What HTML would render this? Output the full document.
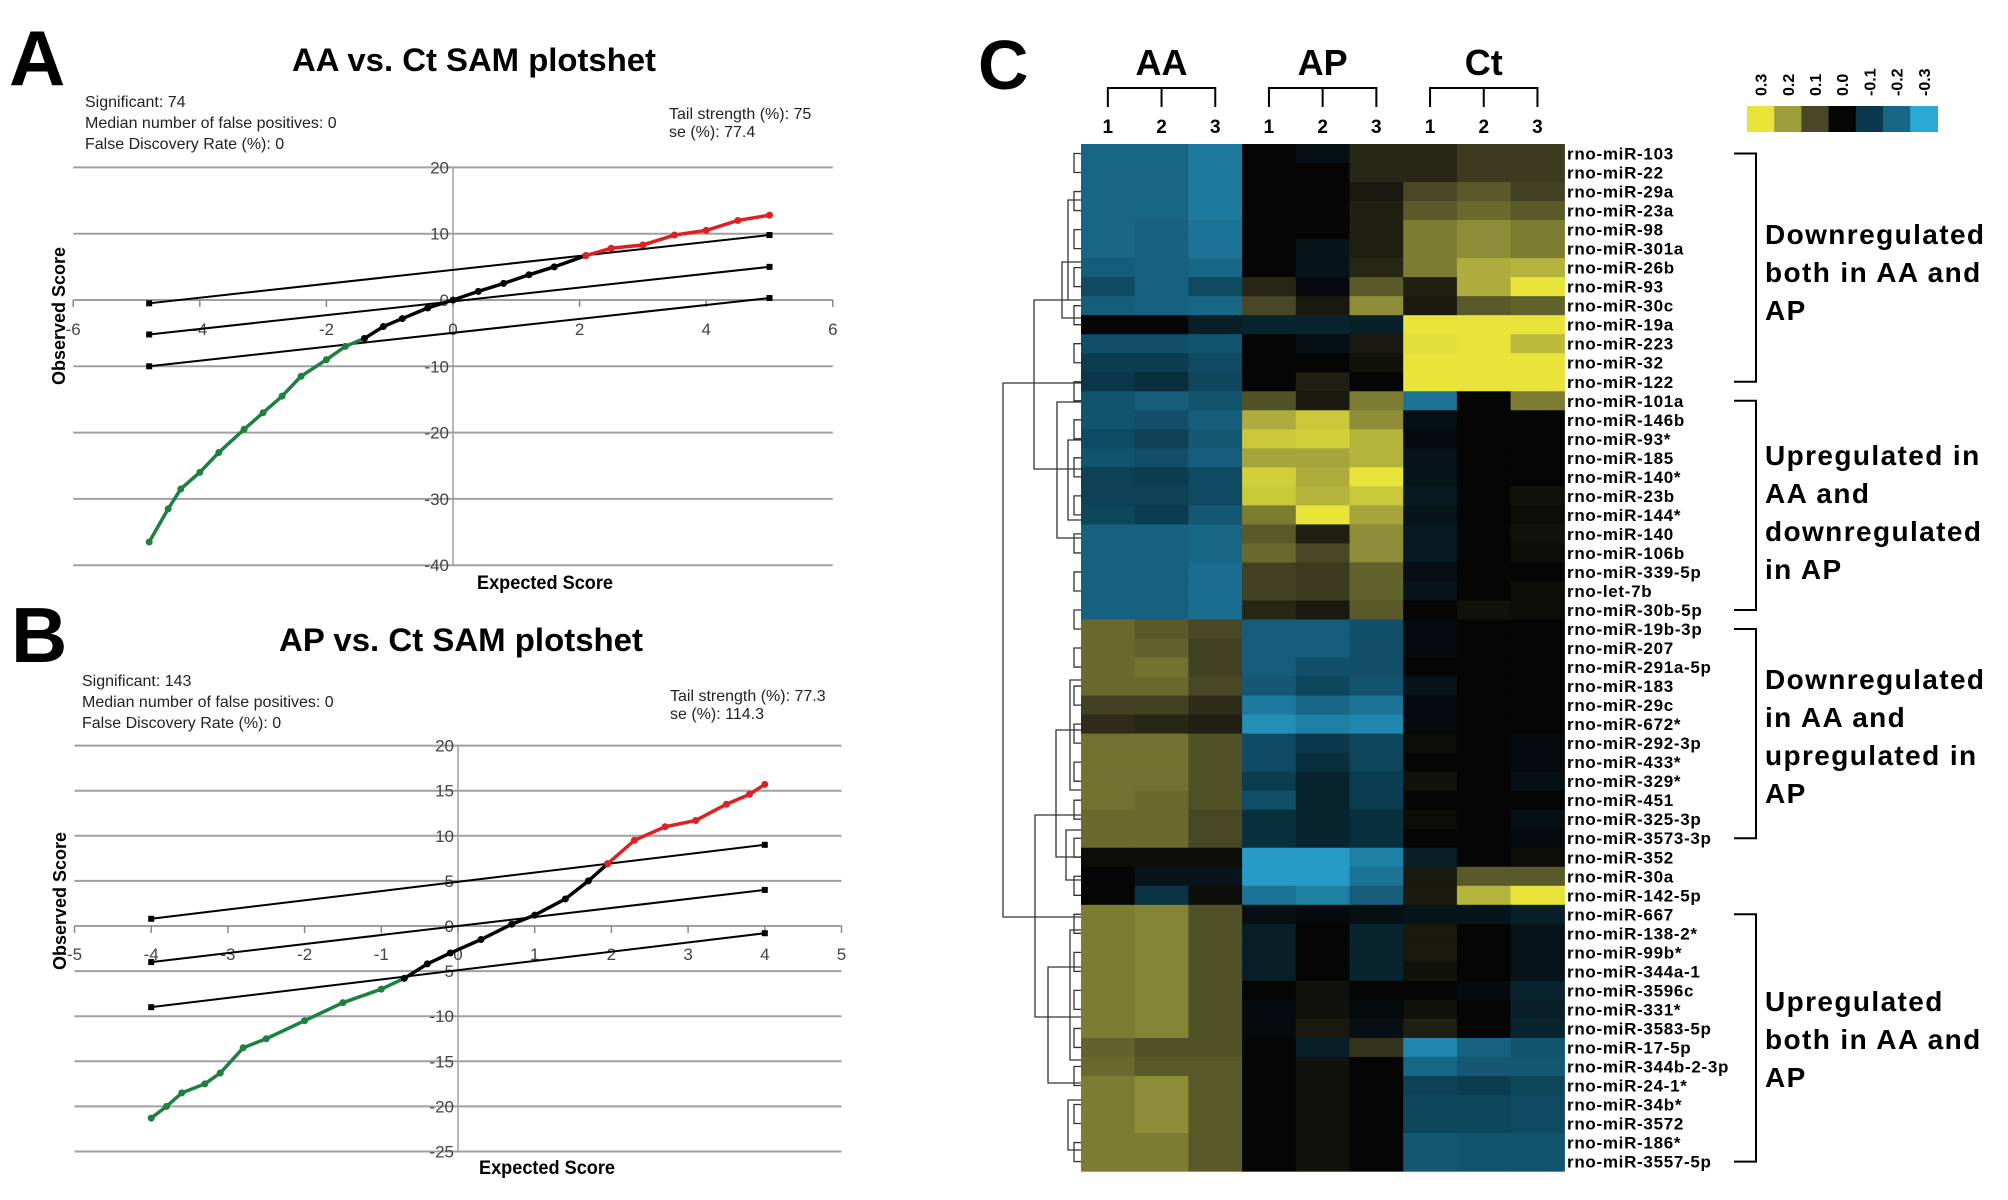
<!DOCTYPE html>
<html><head><meta charset="utf-8"><style>
html,body{margin:0;padding:0;background:#fff}
svg{display:block}
text{font-family:"Liberation Sans",sans-serif}
</style></head><body>
<svg id="fig" width="2008" height="1200" viewBox="0 0 2008 1200" xmlns="http://www.w3.org/2000/svg">
<rect width="2008" height="1200" fill="#fff"/>
<g id="panelA"></g>
<g id="panelB"></g>
<g id="panelC"></g>
</svg>
<script>
// ===== Panel A data =====
const aYTicks = [20, 10, 0, -10, -20, -30, -40];
const aXTicks = [-6, -4, -2, 0, 2, 4, 6];
const aGreenX = [-4.8,-4.5,-4.3,-4.0,-3.7,-3.3,-3.0,-2.7,-2.4,-2.0,-1.7,-1.4];
const aGreenY = [-36.5,-31.5,-28.5,-26,-23,-19.5,-17,-14.5,-11.5,-9,-7,-5.8];
const aBlackX = [-1.4,-1.1,-0.8,-0.4,0,0.4,0.8,1.2,1.6,2.1];
const aBlackY = [-5.8,-4,-2.8,-1.2,0,1.3,2.5,3.8,5,6.7];
const aRedX = [2.1,2.5,3.0,3.5,4.0,4.5,5.0];
const aRedY = [6.7,7.8,8.3,9.8,10.5,12,12.8];
const aCutX1 = [-4.8,-4.8,-4.8];
const aCutY1 = [-0.5,-5.2,-10];
const aCutX2 = [5,5,5];
const aCutY2 = [9.8,5,0.3];
// ===== Panel B data =====
const bYTicks = [20,15,10,5,0,-5,-10,-15,-20,-25];
const bXTicks = [-5,-4,-3,-2,-1,0,1,2,3,4,5];
const bGreenX = [-4,-3.8,-3.6,-3.3,-3.1,-2.8,-2.5,-2,-1.5,-1,-0.7];
const bGreenY = [-21.3,-20,-18.5,-17.5,-16.3,-13.5,-12.5,-10.5,-8.5,-7,-5.8];
const bBlackX = [-0.7,-0.4,-0.1,0.3,0.7,1,1.4,1.7,1.95];
const bBlackY = [-5.8,-4.2,-3,-1.5,0.2,1.2,3,5,6.9];
const bRedX = [1.95,2.3,2.7,3.1,3.5,3.8,4];
const bRedY = [6.9,9.5,11,11.7,13.5,14.6,15.7];
const bCutX1 = [-4,-4,-4];
const bCutY1 = [0.8,-4,-9];
const bCutX2 = [4,4,4];
const bCutY2 = [9,4,-0.8];
// ===== Panel C data =====
const groups = ["AA","AP","Ct"];
const sampleNums = ["1","2","3","1","2","3","1","2","3"];
const legendLabels = ["0.3","0.2","0.1","0.0","-0.1","-0.2","-0.3"];
const mirnas = ["rno-miR-103","rno-miR-22","rno-miR-29a","rno-miR-23a","rno-miR-98","rno-miR-301a","rno-miR-26b","rno-miR-93","rno-miR-30c","rno-miR-19a","rno-miR-223","rno-miR-32","rno-miR-122",
"rno-miR-101a","rno-miR-146b","rno-miR-93*","rno-miR-185","rno-miR-140*","rno-miR-23b","rno-miR-144*","rno-miR-140","rno-miR-106b","rno-miR-339-5p","rno-let-7b","rno-miR-30b-5p",
"rno-miR-19b-3p","rno-miR-207","rno-miR-291a-5p","rno-miR-183","rno-miR-29c","rno-miR-672*","rno-miR-292-3p","rno-miR-433*","rno-miR-329*","rno-miR-451","rno-miR-325-3p","rno-miR-3573-3p",
"rno-miR-352","rno-miR-30a","rno-miR-142-5p",
"rno-miR-667","rno-miR-138-2*","rno-miR-99b*","rno-miR-344a-1","rno-miR-3596c","rno-miR-331*","rno-miR-3583-5p","rno-miR-17-5p","rno-miR-344b-2-3p","rno-miR-24-1*","rno-miR-34b*","rno-miR-3572","rno-miR-186*","rno-miR-3557-5p"];
const expr = [
[-2,-2,-2.3,0,-0.2,0.5,0.5,0.8,0.8],
[-2,-2,-2.3,0,0,0.5,0.5,0.8,0.8],
[-2,-2,-2.3,0,0,0.3,1,1.2,0.9],
[-2,-2,-2.3,0,0,0.4,1.2,1.4,1.2],
[-2,-1.9,-2.2,0,0,0.4,1.6,1.8,1.6],
[-2,-1.9,-2.2,0,-0.3,0.4,1.6,1.8,1.6],
[-1.8,-1.9,-2,0,-0.3,0.5,1.6,2.2,2.3],
[-1.4,-1.9,-1.4,0.5,-0.1,1.2,0.4,2.2,3],
[-1.8,-1.9,-2,1,0.3,1.8,0.3,1.2,1.3],
[0,0,-0.5,-0.6,-0.6,-0.5,3,3,3],
[-1.5,-1.5,-1.6,0,-0.2,0.3,2.9,3,2.4],
[-1.1,-1.1,-1.4,0,0,0.2,3,3,3],
[-1,-0.8,-1.3,0,0.4,0,3,3,3],
[-1.6,-1.8,-1.6,1.1,0.3,1.6,-2.2,0,1.6],
[-1.6,-1.5,-1.8,2.2,2.6,1.8,-0.2,0,0],
[-1.4,-1.2,-1.7,2.6,2.7,2.3,-0.1,0,0],
[-1.6,-1.5,-1.8,2.1,2.1,2.3,-0.3,0,0],
[-1.2,-1.1,-1.4,2.7,2.2,3,-0.3,0,0],
[-1.2,-1.2,-1.4,2.6,2.3,2.6,-0.4,0,0.2],
[-1.3,-1.1,-1.7,1.6,3,2.1,-0.3,0,0.1],
[-1.9,-1.9,-2,1.2,0.4,1.8,-0.4,0,0.2],
[-1.9,-1.9,-2,1.4,1.0,1.8,-0.4,0,0.1],
[-1.9,-1.9,-2.1,0.9,0.8,1.3,-0.2,0,0],
[-1.9,-1.9,-2.1,0.9,0.8,1.3,-0.3,0,0.1],
[-1.9,-1.9,-2.1,0.5,0.3,1.2,0,0.2,0.1],
[1.4,1.2,1.0,-1.8,-1.8,-1.5,-0.1,0,0],
[1.4,1.3,0.9,-1.8,-1.8,-1.5,-0.1,0,0],
[1.4,1.5,0.9,-1.8,-1.5,-1.5,0,0,0],
[1.4,1.4,1.0,-1.7,-1.3,-1.6,-0.3,0,0],
[0.9,0.9,0.6,-2.3,-2.0,-2.2,-0.1,0,0],
[0.6,0.5,0.4,-2.6,-2.4,-2.5,-0.1,0,0],
[1.5,1.5,1.1,-1.4,-1.0,-1.3,0.1,0,-0.1],
[1.5,1.5,1.1,-1.4,-0.8,-1.3,0,0,-0.1],
[1.5,1.5,1.1,-1.1,-0.6,-1.1,0.2,0,-0.2],
[1.5,1.4,1.1,-1.5,-0.6,-1.1,0,0,0],
[1.4,1.4,1.0,-0.8,-0.6,-0.8,0.1,0,-0.2],
[1.4,1.4,1.0,-0.8,-0.6,-0.8,0,0,-0.1],
[0.1,0.1,0.1,-2.8,-2.8,-2.4,-0.5,0,0.1],
[0,-0.3,-0.3,-2.8,-2.8,-2.2,0.3,1.2,1.2],
[0,-0.9,0.1,-2.2,-2.4,-1.8,0.3,2.3,3],
[1.6,1.7,1.1,-0.2,-0.1,-0.2,-0.3,-0.3,-0.5],
[1.6,1.7,1.1,-0.5,0,-0.6,0.3,0,-0.3],
[1.6,1.7,1.1,-0.5,0,-0.6,0.3,0,-0.3],
[1.6,1.7,1.1,-0.5,0,-0.6,0.2,0,-0.3],
[1.6,1.7,1.1,0,0.2,0,0,-0.1,-0.6],
[1.6,1.7,1.1,-0.1,0.2,-0.1,0.2,0,-0.5],
[1.6,1.7,1.1,-0.1,0.3,-0.2,0.4,0,-0.6],
[1.3,1.1,1.1,0,-0.5,0.7,-2.5,-1.9,-1.6],
[1.4,1.2,1.2,0,0.2,0,-2,-1.7,-1.7],
[1.6,1.8,1.2,0,0.2,0,-1.2,-1.1,-1.3],
[1.6,1.8,1.2,0,0.2,0,-1.3,-1.3,-1.4],
[1.6,1.8,1.2,0,0.2,0,-1.3,-1.3,-1.4],
[1.6,1.6,1.2,0,0.2,0,-1.7,-1.6,-1.6],
[1.6,1.6,1.2,0,0.2,0,-1.7,-1.6,-1.6]
];
const groupStart = [0,13,25,40];
const groupEnd = [12,24,36,53];
const groupText = [["Downregulated","both in AA and","AP"],["Upregulated in","AA and","downregulated","in AP"],["Downregulated","in AA and","upregulated in","AP"],["Upregulated","both in AA and","AP"]];

const NS="http://www.w3.org/2000/svg";
function mk(parent,tag,attrs,txt){const e=document.createElementNS(NS,tag);for(const k in attrs)e.setAttribute(k,attrs[k]);if(txt!==undefined)e.textContent=txt;parent.appendChild(e);return e;}

function scatterPanel(g,cfg){
  const xs=v=>cfg.x0+v*cfg.xu, ys=v=>cfg.y0-v*cfg.yu;
  let t=mk(g,'text',{x:cfg.lx,y:cfg.ly,'font-size':cfg.lsize,'font-weight':'bold'},cfg.letter);
  
  
  t=mk(g,'text',{x:cfg.tx,y:cfg.ty,'font-size':32,'font-weight':'bold','text-anchor':'middle',textLength:364,lengthAdjust:'spacingAndGlyphs'},cfg.title);
  
  
  cfg.stats.forEach((s,i)=>{const e=mk(g,'text',{x:cfg.sx,y:cfg.sy+i*21,'font-size':16,fill:'#222'},s);
    
    });
  cfg.stats2.forEach((s,i)=>{const e=mk(g,'text',{x:cfg.s2x,y:cfg.s2y+i*18,'font-size':16,fill:'#222'},s);
    
    });
  const xl=xs(cfg.xmin), xr=xs(cfg.xmax);
  cfg.yticks.forEach(v=>{const l=mk(g,'line',{x1:xl,x2:xr,y1:ys(v),y2:ys(v),stroke:'#a0a0a0','stroke-width':2});
    
    
    const e=mk(g,'text',{x:xs(0)-4,y:ys(v)+6,'font-size':17,fill:'#444','text-anchor':'end'},String(v));
    
    });
  const ya=mk(g,'line',{x1:xs(0),x2:xs(0),y1:ys(cfg.yticks[0]),y2:ys(cfg.yticks[cfg.yticks.length-1]),stroke:'#a0a0a0','stroke-width':1.5});
  
  
  cfg.xticks.forEach(v=>{const l=mk(g,'line',{x1:xs(v),x2:xs(v),y1:ys(0),y2:ys(0)+7,stroke:'#888','stroke-width':1.5});
    
    
    const e=mk(g,'text',{x:xs(v),y:ys(0)+cfg.xlabOff,'font-size':17,fill:'#444','text-anchor':'middle'},String(v));
    
    });
  for(let i=0;i<cfg.c1x.length;i++){
    const l=mk(g,'line',{x1:xs(cfg.c1x[i]),y1:ys(cfg.c1y[i]),x2:xs(cfg.c2x[i]),y2:ys(cfg.c2y[i]),stroke:'#000','stroke-width':2});
    
    
    [[cfg.c1x[i],cfg.c1y[i]],[cfg.c2x[i],cfg.c2y[i]]].forEach(p=>{const c=mk(g,'rect',{x:xs(p[0])-3,y:ys(p[1])-3,width:6,height:6,fill:'#000'});
      
      });
  }
  [[cfg.gx,cfg.gy,'#1e8040','green-series'],[cfg.kx,cfg.ky,'#000','black-series'],[cfg.rx,cfg.ry,'#e02020','red-series']].forEach(s=>{
    const pts=s[0].map((v,i)=>xs(v)+','+ys(s[1][i])).join(' ');
    const pl=mk(g,'polyline',{points:pts,fill:'none',stroke:s[2],'stroke-width':3.5});
    
    
    s[0].forEach((v,i)=>{const c=mk(g,'circle',{cx:xs(v),cy:ys(s[1][i]),r:3.5,fill:s[2]});
      
      });
  });
  t=mk(g,'text',{x:0,y:0,'font-size':18,'font-weight':'bold',transform:`translate(${cfg.ytx},${cfg.yty}) rotate(-90)`,'text-anchor':'middle'},'Observed Score');
  
  
  t=mk(g,'text',{x:cfg.xtx,y:cfg.xty,'font-size':19,'font-weight':'bold','text-anchor':'middle',textLength:136,lengthAdjust:'spacingAndGlyphs'},'Expected Score');
  
  
}

scatterPanel(document.getElementById('panelA'),{letter:'A',lx:9,ly:85,lsize:78,title:'AA vs. Ct SAM plotshet',tx:474,ty:71,
  stats:['Significant: 74','Median number of false positives: 0','False Discovery Rate (%): 0'],sx:85,sy:107,
  stats2:['Tail strength (%): 75','se (%): 77.4'],s2x:669,s2y:119,
  x0:453,xu:63.3,y0:300,yu:6.63,xmin:-6,xmax:6,yticks:aYTicks,xticks:aXTicks,xlabOff:35,
  c1x:aCutX1,c1y:aCutY1,c2x:aCutX2,c2y:aCutY2,gx:aGreenX,gy:aGreenY,kx:aBlackX,ky:aBlackY,rx:aRedX,ry:aRedY,
  ytx:65,yty:316,xtx:545,xty:589});
scatterPanel(document.getElementById('panelB'),{letter:'B',lx:11,ly:662,lsize:78,title:'AP vs. Ct SAM plotshet',tx:461,ty:651,
  stats:['Significant: 143','Median number of false positives: 0','False Discovery Rate (%): 0'],sx:82,sy:686,
  stats2:['Tail strength (%): 77.3','se (%): 114.3'],s2x:670,s2y:701,
  x0:458,xu:76.7,y0:926,yu:9.02,xmin:-5,xmax:5,yticks:bYTicks,xticks:bXTicks,xlabOff:34,
  c1x:bCutX1,c1y:bCutY1,c2x:bCutX2,c2y:bCutY2,gx:bGreenX,gy:bGreenY,kx:bBlackX,ky:bBlackY,rx:bRedX,ry:bRedY,
  ytx:66,yty:901,xtx:547,xty:1174});

// ===== Panel C =====
(function(){
  const g=document.getElementById('panelC');
  const hx=1081, hy=144, cw=53.7, rh=19.02;
  const stops=[[-3,[42,168,214]],[-2,[24,102,134]],[-1,[10,56,74]],[0,[5,5,5]],[1,[72,72,38]],[2,[158,158,60]],[3,[232,228,58]]];
  function col(v){v=Math.max(-3,Math.min(3,v));for(let i=0;i<stops.length-1;i++){const a=stops[i],b=stops[i+1];if(v<=b[0]){const t=(v-a[0])/(b[0]-a[0]);return 'rgb('+a[1].map((c,j)=>Math.round(c+(b[1][j]-c)*t)).join(',')+')';}}return 'rgb(232,228,58)';}
  let t=mk(g,'text',{x:978,y:89,'font-size':70,'font-weight':'bold'},'C');
  
  
  expr.forEach((row,r)=>row.forEach((v,c)=>{
    const e=mk(g,'rect',{x:hx+c*cw,y:hy+r*rh,width:cw+0.6,height:rh+0.6,fill:col(v)});
    
    
  }));
  mirnas.forEach((m,r)=>{const e=mk(g,'text',{x:1567,y:hy+r*rh+rh/2+6,'font-size':17,'font-weight':'bold','letter-spacing':'0.7'},m);
    
    });
  groups.forEach((gname,i)=>{
    const cx=hx+(i*3+1.5)*cw;
    const e=mk(g,'text',{x:cx,y:75,'font-size':36,'font-weight':'bold','text-anchor':'middle'},gname);
    
    
    const x1=hx+(i*3+0.5)*cw, x2=hx+(i*3+2.5)*cw;
    const b=mk(g,'path',{d:`M${x1},107 V88 H${x2} V107 M${cx},88 V107`,fill:'none',stroke:'#000','stroke-width':2});
    
    
  });
  sampleNums.forEach((s,c)=>{const e=mk(g,'text',{x:hx+(c+0.5)*cw,y:133,'font-size':19,'font-weight':'bold','text-anchor':'middle'},s);
    
    });
  legendLabels.forEach((l,i)=>{
    const v=3-i;
    const e=mk(g,'rect',{x:1747+i*27.2,y:106,width:27.8,height:26,fill:col(v)});
    
    
    const tx=1747+i*27.2+13.6+6;
    const tt=mk(g,'text',{x:0,y:0,'font-size':16,'font-weight':'bold',transform:`translate(${tx},96) rotate(-90)`},l);
    
    
  });
  const tyStart=[234,455,679,1001];
  groupStart.forEach((s,i)=>{
    const y1=hy+s*rh+rh/2, y2=hy+groupEnd[i]*rh+rh/2;
    const b=mk(g,'path',{d:`M1734,${y1} H1756 V${y2} H1734`,fill:'none',stroke:'#000','stroke-width':2});
    
    
    groupText[i].forEach((line,j)=>{const e=mk(g,'text',{x:1765,y:tyStart[i]+j*38+10,'font-size':28,'font-weight':'bold','letter-spacing':'1.4'},line);
      
      });
  });
  const ry=r=>hy+r*rh+rh/2;
  const segs=[];
  function link(x,ya,yb){segs.push(`M1081,${ya} H${x} V${yb} H1081`);}
  for(let r=0;r<53;r+=2){link(1074,ry(r),ry(r+1));}
  link(1003,383,917);
  link(1034,300,469);
  link(1062,262,318);
  link(1057,402,538);
  link(1035,815,1017);
  link(1056,730,857);
  link(1048,967,1083);
  link(1068,200,300);
  link(1068,440,520);
  link(1070,680,790);
  link(1066,830,880);
  link(1070,930,1060);
  link(1068,1100,1150);
  const d=mk(g,'path',{d:segs.join(' '),fill:'none',stroke:'#333','stroke-width':1.3});
  
  
})();
</script>
</body></html>
